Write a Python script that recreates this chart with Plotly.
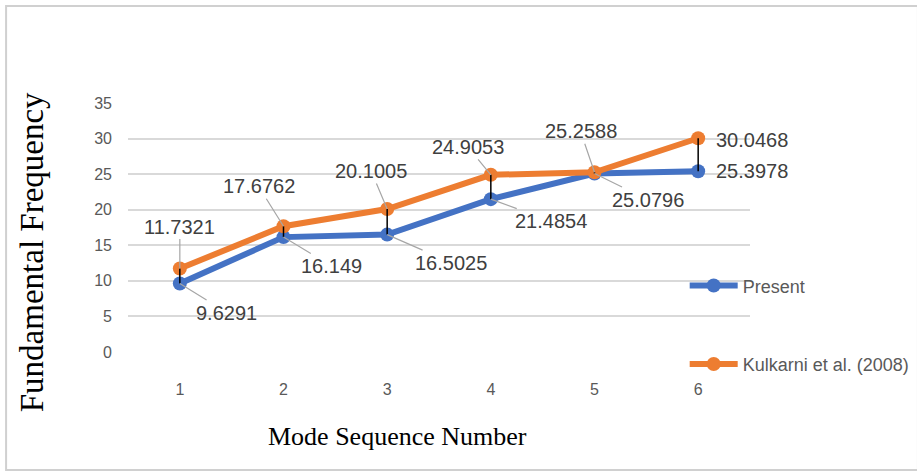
import plotly.graph_objects as go

modes = [1, 2, 3, 4, 5, 6]
present = [9.6291, 16.149, 16.5025, 21.4854, 25.0796, 25.3978]
kulkarni = [11.7321, 17.6762, 20.1005, 24.9053, 25.2588, 30.0468]
y_ticks = [0, 5, 10, 15, 20, 25, 30, 35]

# label offsets (px) from the point to the label centre
kul_off = [(0, -42), (-25, -40), (-16, -38), (-23, -28), (-14, -41), (54, 2)]
pre_off = [(47, 29), (48, 29), (64, 28), (60, 22), (53, 26), (54, 0)]

BLUE = '#4472C4'
ORANGE = '#ED7D31'
label_font = dict(family='Liberation Sans, Arial', size=20, color='#404040')
tick_font = dict(family='Liberation Sans, Arial', size=16, color='#595959')
serif = 'Liberation Serif, Times New Roman'

fig = go.Figure()
fig.add_trace(go.Scatter(x=modes, y=present, mode='lines+markers', name='Present',
                         legendgroup='a',
                         line=dict(color=BLUE, width=6),
                         marker=dict(color=BLUE, size=14)))
fig.add_trace(go.Scatter(x=modes, y=kulkarni, mode='lines+markers', name='Kulkarni et al. (2008)',
                         legendgroup='b',
                         line=dict(color=ORANGE, width=6),
                         marker=dict(color=ORANGE, size=14)))

# high-low lines
hx, hy = [], []
for m, p, k in zip(modes, present, kulkarni):
    hx += [m, m, None]
    hy += [p, k, None]
fig.add_trace(go.Scatter(x=hx, y=hy, mode='lines', showlegend=False, hoverinfo='skip',
                         line=dict(color='black', width=1.5)))

annotations = []
for vals, offs in [(kulkarni, kul_off), (present, pre_off)]:
    for i, (m, v) in enumerate(zip(modes, vals)):
        ox, oy = offs[i]
        if i == len(modes) - 1:
            annotations.append(dict(x=m, y=v, text=f'{v:g}', showarrow=False,
                                    xshift=ox, yshift=-oy, font=label_font))
        else:
            annotations.append(dict(x=m, y=v, text=f'{v:g}', showarrow=True,
                                    ax=ox, ay=oy, arrowhead=0, arrowwidth=1.2,
                                    arrowcolor='#A6A6A6', font=label_font))

annotations.append(dict(xref='paper', yref='paper', x=0.434, y=-0.341,
                        xanchor='center', yanchor='middle',
                        text='Mode Sequence Number', showarrow=False,
                        font=dict(family=serif, size=26, color='black')))
annotations.append(dict(xref='paper', yref='paper', x=-0.153, y=0.4, textangle=-90,
                        xanchor='center', yanchor='middle',
                        text='Fundamental Frequency', showarrow=False,
                        font=dict(family=serif, size=33, color='black')))

fig.update_layout(
    width=917, height=472,
    margin=dict(l=128, r=167, t=103, b=120, autoexpand=False),
    paper_bgcolor='white', plot_bgcolor='white',
    annotations=annotations,
    legend=dict(x=0.895, xanchor='left', y=0.34, yanchor='top',
                font=dict(family='Liberation Sans, Arial', size=18, color='#595959'),
                tracegroupgap=52, itemwidth=48, bgcolor='rgba(0,0,0,0)'),
    shapes=[dict(type='rect', xref='paper', yref='paper',
                 x0=-0.196, x1=1.27, y0=-0.474, y1=1.39,
                 line=dict(color='#D0D0D0', width=2), layer='below')],
    showlegend=True,
)
fig.update_xaxes(range=[0.5, 6.5], tickvals=modes, showgrid=False, zeroline=False,
                 showline=False, ticklabelstandoff=26, tickfont=tick_font)
fig.update_yaxes(range=[0, 35], tickvals=y_ticks, showgrid=True, gridcolor='#D9D9D9',
                 gridwidth=2, zeroline=False, showline=False, ticklabelstandoff=15,
                 tickfont=tick_font)

fig.write_html("out.html", config={'displayModeBar': False},
               post_script="document.body.style.margin='0';")
